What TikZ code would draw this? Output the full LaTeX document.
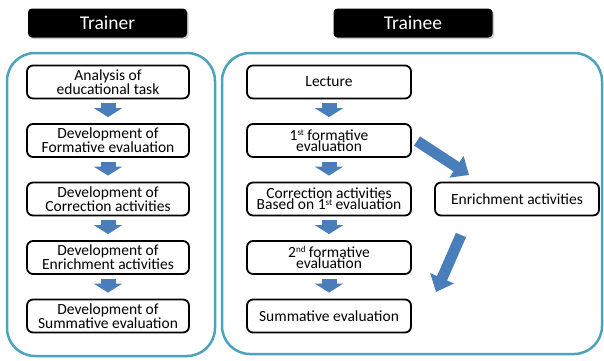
\documentclass[tikz,border=0pt]{standalone}
\usepackage{fontspec}
\setmainfont{Carlito}
\usetikzlibrary{arrows.meta,shadows}
\definecolor{frame}{HTML}{4BA3BE}
\definecolor{arrowblue}{HTML}{4A7EBB}
\newcommand\ordsup[1]{\raisebox{0.28em}{\fontsize{9}{9}\selectfont #1}}
\tikzset{
  stage/.style={draw=black,line width=1.8pt,rounded corners=6pt,minimum width=162pt,
    minimum height=33pt,align=center,inner sep=0pt,font=\fontsize{15.5}{11}\selectfont},
  head/.style={fill=black,text=white,rounded corners=4pt,minimum width=159pt,minimum height=29pt,
    font=\fontsize{19.5}{20}\selectfont,
    drop shadow={shadow xshift=1.5pt,shadow yshift=-1.5pt,fill=gray,opacity=0.4}},
  panel/.style={draw=frame,line width=2.5pt,rounded corners=28pt},
  down/.style={arrowblue,line width=15pt,-{Triangle[width=28pt,length=9pt]},
    shorten <=4pt,shorten >=6pt},
  slant/.style={arrowblue,line width=11pt,-{Triangle[width=25pt,length=15pt]}}
}
\begin{document}
\begin{tikzpicture}[x=1pt,y=-1pt]
\useasboundingbox[fill=white] (0,0) rectangle (604,360);
\draw[panel] (7,53) rectangle (215,356); % trainer side
\draw[panel] (222,53) rectangle (602,354); % trainee side
\node[head] (trainer) at (107.5,23) {Trainer};
\node[head] (trainee) at (413,23) {Trainee};

\foreach \t [count=\i] in {{Analysis of\\educational task},{Development of\\Formative evaluation},
  {Development of\\Correction activities},{Development of\\Enrichment activities},
  {Development of\\Summative evaluation}}
\node[stage] (L\i) at (108,{82+58.5*(\i-1)}) {\t};

\node[stage,minimum width=164pt] (lecture) at (329,82) {Lecture};
\node[stage,minimum width=164pt] (form1) at (329,140.5) {1\ordsup{st} formative\\evaluation};
\node[stage,minimum width=164pt] (corr) at (329,199) {Correction activities\\Based on 1\ordsup{st} evaluation};
\node[stage,minimum width=164pt] (form2) at (329,257.5) {2\ordsup{nd} formative\\evaluation};
\node[stage,minimum width=164pt] (summ) at (329,316) {Summative evaluation};
\node[stage,minimum width=164pt] (enrich) at (517,199) {Enrichment activities};

\foreach \i [evaluate=\i as \j using int(\i+1)] in {1,...,4}
\draw[down] (L\i) -- (L\j);
\draw[down] (lecture) -- (form1);
\draw[down] (form1) -- (corr);
\draw[down] (corr) -- (form2);
\draw[down] (form2) -- (summ);

\coordinate (s1) at (417,141);
\coordinate (t1) at (469,175);
\draw[slant] (s1) -- (t1);
\coordinate (s2) at (461,235);
\coordinate (t2) at (436,292);
\draw[slant] (s2) -- (t2);
\end{tikzpicture}
\end{document}
